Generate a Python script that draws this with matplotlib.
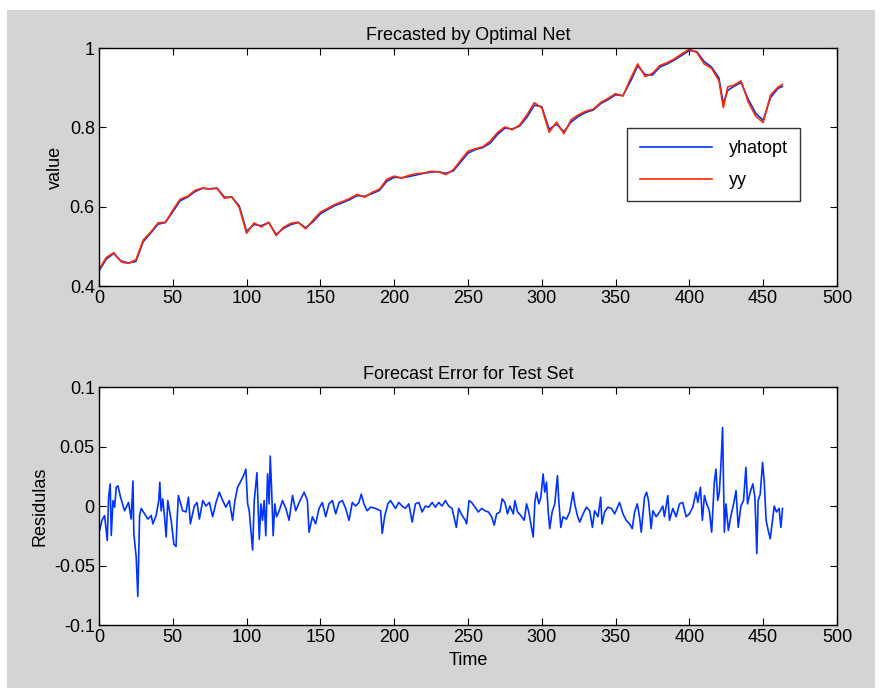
import matplotlib
matplotlib.use('Agg')
import matplotlib.pyplot as plt
from matplotlib.patches import Rectangle

plt.rcParams['font.family'] = ['Liberation Sans', 'DejaVu Sans']
plt.rcParams['font.size'] = 13

t_top = [0, 5, 10, 15, 20, 25, 30, 35, 40, 45, 50, 55, 60, 65, 70, 75, 80, 85, 90, 95,
         100, 105, 110, 115, 120, 125, 130, 135, 140, 145, 150, 155, 160, 165, 170, 175,
         180, 185, 190, 195, 200, 205, 210, 215, 220, 225, 230, 235, 240, 245, 250, 255,
         260, 265, 270, 275, 280, 285, 290, 295, 300, 305, 310, 315, 320, 325, 330, 335,
         340, 345, 350, 355, 360, 365, 370, 375, 380, 385, 390, 395, 400, 405, 410, 415,
         420, 423, 426, 430, 435, 440, 445, 450, 455, 460, 463]
yhatopt = [0.438, 0.468, 0.482, 0.463, 0.458, 0.462, 0.512, 0.533, 0.556, 0.560, 0.587, 0.615,
           0.624, 0.638, 0.646, 0.645, 0.647, 0.624, 0.624, 0.602, 0.538, 0.555, 0.552, 0.560,
           0.530, 0.545, 0.555, 0.560, 0.547, 0.562, 0.582, 0.593, 0.603, 0.610, 0.618, 0.628,
           0.626, 0.633, 0.641, 0.664, 0.674, 0.673, 0.676, 0.680, 0.684, 0.687, 0.688, 0.684,
           0.690, 0.712, 0.735, 0.744, 0.749, 0.760, 0.782, 0.798, 0.796, 0.803, 0.826, 0.856,
           0.852, 0.795, 0.808, 0.789, 0.814, 0.828, 0.838, 0.844, 0.860, 0.870, 0.882, 0.880,
           0.915, 0.955, 0.933, 0.932, 0.952, 0.960, 0.970, 0.982, 0.994, 0.991, 0.966, 0.952,
           0.925, 0.860, 0.893, 0.903, 0.913, 0.870, 0.835, 0.818, 0.875, 0.898, 0.903]
yy = [0.442, 0.472, 0.484, 0.461, 0.457, 0.466, 0.516, 0.536, 0.559, 0.561, 0.591, 0.619,
      0.626, 0.641, 0.647, 0.645, 0.646, 0.621, 0.625, 0.598, 0.533, 0.559, 0.549, 0.561,
      0.527, 0.548, 0.558, 0.561, 0.544, 0.566, 0.586, 0.596, 0.606, 0.613, 0.621, 0.631,
      0.624, 0.636, 0.644, 0.669, 0.677, 0.672, 0.679, 0.683, 0.685, 0.689, 0.688, 0.681,
      0.693, 0.717, 0.740, 0.746, 0.751, 0.765, 0.787, 0.801, 0.794, 0.806, 0.832, 0.862,
      0.849, 0.788, 0.813, 0.784, 0.820, 0.832, 0.841, 0.846, 0.863, 0.873, 0.885, 0.879,
      0.922, 0.960, 0.928, 0.936, 0.956, 0.963, 0.973, 0.986, 0.997, 0.989, 0.960, 0.949,
      0.918, 0.850, 0.902, 0.906, 0.917, 0.863, 0.828, 0.812, 0.882, 0.901, 0.908]

# residuals of the test set (time, value)
t_res = [0.4, 2, 3.8, 5.6, 6.5, 7.6, 8.3, 9.5, 10.6, 11.7, 12.8, 14.6, 17.3, 20, 21.8, 23,
         23.6, 25.2, 26.3, 27.5, 28.6, 30.9, 33.1, 35.4, 36.5, 38.7, 40.5, 41.2, 42.1, 43.2,
         44.4, 45.5, 46.6, 48.9, 50.7, 52.2, 52.9, 53.8, 56.7, 59, 60.6, 61.9, 64.6, 66.4,
         68, 70.3, 72.5, 74.8, 77, 79.3, 81.5, 83.8, 86, 88.3, 90.5, 92.1, 93.9, 95.7, 97.3,
         98.4, 99.5, 100.7, 101.8, 102.9, 104.1, 105.2, 107, 108.6, 109.7, 110.8, 111.9,
         113, 114.2, 115.3, 116, 116.9, 118, 119.1, 120.3, 122.1, 124.3, 126.6, 128.8,
         131.1, 133.3, 135.6, 139, 141.2, 142.3, 144.6, 146.8, 149.1, 151.3, 153.6, 155.8,
         158.1, 160.4, 162.6, 164.9, 167.1, 169.4, 171.6, 173.9, 176.1, 177.7, 179.5, 181.7,
         184, 187.4, 190.8, 191.9, 193.5, 195.7, 197.5, 200.9, 203.1, 205.4, 207.6, 209.9,
         212.2, 214.4, 216.7, 218.9, 221.2, 223.4, 225.7, 227.9, 230.2, 232.4, 234.7, 236.9,
         239.2, 242.1, 243.7, 246, 248.2, 249.1, 250.7, 252.5, 254.8, 257, 259.3, 261.5,
         263.8, 266, 267.8, 269.4, 271.6, 273.2, 275, 276.8, 278.4, 280.7, 281.8, 283.6,
         285.8, 288.1, 289.7, 291.2, 293, 294.2, 295.3, 296.4, 298, 299.4, 300.9, 302,
         303.2, 304.3, 305.4, 307, 308.8, 310.6, 311.5, 312.9, 314.4, 316.7, 318.9, 321.2,
         322.3, 324.1, 325.7, 328, 330.2, 332.5, 334.3, 335.8, 338.1, 339.9, 340.8, 342.6,
         344.8, 347.1, 349.4, 351.6, 352.7, 355, 357.2, 359.5, 361.3, 362.9, 364.7, 366.2,
         367.4, 369.6, 371, 372.3, 374.1, 375.3, 377.5, 379.8, 382, 383.1, 385.4, 386.5,
         388.8, 391, 393.3, 395.5, 397.8, 400, 402.3, 404.5, 405.7, 407.5, 408.8, 410.2,
         411.7, 413.5, 415.1, 416.9, 418, 419.2, 420.3, 421.4, 422.5, 423.7, 424.8, 426.4,
         428.2, 430, 431.6, 433.1, 434.9, 436.7, 438.3, 439.4, 441.2, 443, 444.4, 445.7,
         446.6, 448, 449.6, 450.7, 452, 453.4, 454.8, 456.3, 457.5, 459, 460.8, 462, 463.1]
residuals = [-0.0205, -0.012, -0.008, -0.029, 0.0074, 0.0186, -0.0247, 0.0046, -0.001, 0.0158,
             0.017, 0.0074, -0.004, 0.003, -0.011, 0.021, -0.023, -0.043, -0.076, -0.008,
             -0.002, -0.0066, -0.011, -0.008, -0.015, -0.008, 0.0046, 0.020, -0.004, 0.006,
             -0.009, -0.026, 0.0046, -0.012, -0.032, -0.034, -0.012, 0.0088, -0.004, -0.005,
             0.0074, -0.015, 0.0, 0.003, -0.011, 0.0046, 0.0, 0.003, -0.009, 0.003,
             0.0116, 0.0046, -0.001, 0.0046, -0.012, 0.0046, 0.0158, 0.020, 0.024, 0.027,
             0.031, 0.0018, -0.004, -0.0205, -0.037, 0.0046, 0.028, -0.028, 0.0018, -0.012,
             0.0046, -0.025, 0.027, 0.0018, 0.042, 0.0158, -0.025, 0.0018, -0.009, -0.004,
             0.0046, -0.002, -0.012, 0.0088, -0.004, 0.003, 0.0116, 0.0046, -0.022, -0.009,
             -0.015, -0.002, 0.003, -0.009, 0.0018, 0.0046, -0.0066, 0.003, 0.0046, -0.002,
             -0.012, 0.003, 0.0, 0.003, 0.010, 0.0018, -0.004, -0.001, -0.002, -0.004,
             -0.023, -0.009, 0.0018, 0.0046, -0.002, 0.003, 0.0, -0.002, 0.0018, -0.0135,
             0.0018, 0.003, -0.005, 0.0, -0.001, 0.003, -0.001, 0.003, 0.0, 0.0046,
             0.0, -0.002, -0.018, -0.002, -0.008, -0.012, -0.015, 0.0046, 0.003, -0.001,
             -0.005, -0.002, -0.004, -0.005, -0.009, -0.016, -0.0066, -0.005, 0.006, 0.003,
             -0.0066, 0.0, -0.0066, 0.0046, -0.005, -0.008, -0.012, 0.0018, -0.005, -0.018,
             -0.026, 0.003, 0.0116, 0.0018, 0.0074, 0.027, 0.0116, 0.020, -0.004, -0.019,
             -0.005, 0.0018, 0.0255, 0.0046, -0.018, -0.009, -0.011, -0.005, 0.0116, 0.0018,
             -0.008, -0.0135, -0.0066, -0.001, -0.004, -0.018, -0.004, -0.009, 0.0074, -0.015,
             -0.005, -0.001, -0.002, -0.0066, 0.0, 0.003, -0.0066, -0.012, -0.015, -0.019,
             -0.005, 0.0018, -0.009, -0.022, 0.0074, 0.0116, 0.0046, -0.019, -0.004, -0.009,
             -0.005, 0.0, -0.009, 0.0088, -0.012, -0.002, -0.009, 0.0018, 0.003, -0.009,
             -0.0066, -0.001, 0.0116, 0.003, 0.0158, -0.012, 0.0088, 0.0018, -0.004, -0.022,
             0.020, 0.031, 0.0046, 0.0116, 0.035, 0.066, -0.022, 0.0018, -0.0205, -0.008,
             0.0018, 0.013, -0.018, 0.0, 0.0046, 0.0325, 0.0018, 0.0116, 0.0186, 0.0074,
             -0.040, 0.0046, 0.010, 0.0367, 0.021, -0.012, -0.0205, -0.0275, -0.012, 0.0,
             -0.005, -0.002, -0.018, -0.002]

fig = plt.figure(figsize=(8.8, 6.91), dpi=100, facecolor='white')
fig.patches.append(Rectangle((7 / 880, 3 / 691), 868 / 880, 678 / 691,
                             transform=fig.transFigure, facecolor='#d4d4d4',
                             edgecolor='none', zorder=-10))

ax1 = fig.add_axes([0.1125, 0.5861, 0.8386, 0.3444])
ax2 = fig.add_axes([0.1125, 0.0955, 0.8386, 0.3444])

ax1.plot(t_top, yhatopt, color='#0033ff', lw=1.2, label='yhatopt')
ax1.plot(t_top, yy, color='#ff2a00', lw=1.2, label='yy')
ax1.set_xlim(0, 500)
ax1.set_ylim(0.4, 1)
ax1.set_yticks([0.4, 0.6, 0.8, 1])
ax1.set_yticklabels(['0.4', '0.6', '0.8', '1'])
ax1.set_title('Frecasted by Optimal Net', fontsize=13, pad=6)
ax1.set_ylabel('value')
leg = ax1.legend(loc='upper left', bbox_to_anchor=(0.716, 0.665), frameon=True,
                 fancybox=False, edgecolor='black', handlelength=4.0,
                 handletextpad=0.9, borderpad=0.7, labelspacing=0.8,
                 borderaxespad=0, fontsize=13)
leg.get_frame().set_linewidth(1.0)

ax2.plot(t_res, residuals, color='#0033ff', lw=1.2)
ax2.set_xlim(0, 500)
ax2.set_ylim(-0.1, 0.1)
ax2.set_yticks([-0.1, -0.05, 0, 0.05, 0.1])
ax2.set_yticklabels(['-0.1', '-0.05', '0', '0.05', '0.1'])
ax2.set_title('Forecast Error for Test Set', fontsize=13, pad=6)
ax2.set_ylabel('Residulas')
ax2.set_xlabel('Time')

for ax in (ax1, ax2):
    ax.set_xticks(range(0, 501, 50))
    ax.tick_params(direction='in', top=True, right=True, length=5, labelsize=13, pad=3)
    for s in ax.spines.values():
        s.set_linewidth(1.0)

fig.savefig('out.png', dpi=100, facecolor=fig.get_facecolor())
